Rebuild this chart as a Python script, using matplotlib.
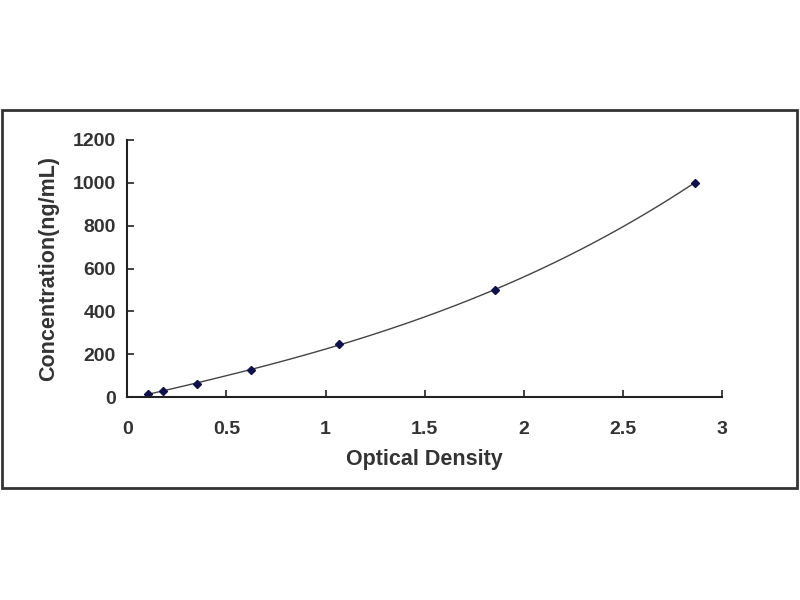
import matplotlib
matplotlib.use('Agg')
import matplotlib.pyplot as plt
import numpy as np
from matplotlib.patches import Rectangle

plt.rcParams['font.family'] = ['Liberation Sans', 'DejaVu Sans']

# standard curve data
optical_density = [0.106, 0.18, 0.35, 0.625, 1.068, 1.855, 2.86]
concentration = [15.6, 31.2, 62.5, 125, 250, 500, 1000]

fig = plt.figure(figsize=(8, 6), dpi=100)

# outer chart frame
fig.patches.append(Rectangle((0.003, 0.187), 0.993, 0.63, transform=fig.transFigure,
                             fill=False, edgecolor='#333333', linewidth=2))

ax = fig.add_axes([0.159, 0.338, 0.744, 0.429])

# smooth trend line from a cubic fit of the standards
coef = np.polyfit(optical_density, concentration, 3)
xs = np.linspace(min(optical_density), max(optical_density), 200)
ax.plot(xs, np.polyval(coef, xs), color='#444444', linewidth=1.0)
ax.plot(optical_density, concentration, linestyle='none', marker='D',
        markersize=4.5, color='#10104a')

ax.set_xlim(0, 3)
ax.set_ylim(0, 1200)
ax.set_xticks([0, 0.5, 1, 1.5, 2, 2.5, 3])
ax.set_xticklabels(['0', '0.5', '1', '1.5', '2', '2.5', '3'])
ax.set_yticks(range(0, 1201, 200))

for side in ['top', 'right']:
    ax.spines[side].set_visible(False)
for side in ['left', 'bottom']:
    ax.spines[side].set_linewidth(1.5)
    ax.spines[side].set_color('#222222')

ax.tick_params(direction='in', length=5, width=1.2, colors='#222222',
               labelsize=14)
ax.tick_params(axis='x', pad=17)
ax.tick_params(axis='y', pad=8)
for lbl in ax.get_xticklabels() + ax.get_yticklabels():
    lbl.set_fontweight('bold')
    lbl.set_color('#333333')

ax.set_xlabel('Optical Density', fontsize=15.5, fontweight='bold',
              labelpad=8, color='#333333')
ax.set_ylabel('Concentration(ng/mL)', fontsize=15.5, fontweight='bold',
              labelpad=10, color='#333333')

fig.savefig('out.png', dpi=100)
